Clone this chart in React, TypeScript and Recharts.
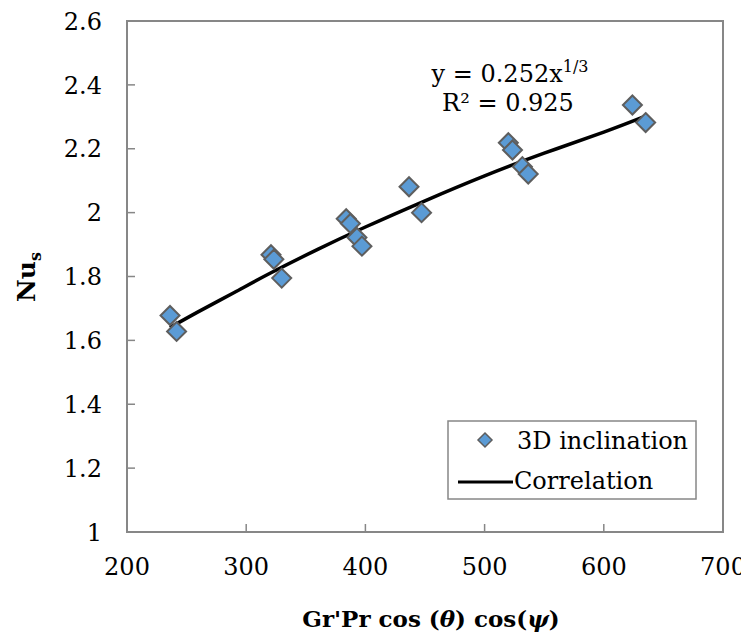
import React from "react";
import {
  ComposedChart,
  Scatter,
  Line,
  XAxis,
  YAxis,
  ReferenceArea,
  Legend,
} from "recharts";

// Measured data: 3D inclination
const measX = [236.1, 241.6, 320.8, 323.2, 329.8, 383.9, 387.4, 392.9, 397.1, 436.6, 447.1, 519.9, 523.4, 531.7, 536.6, 624.0, 635.1];
const measY = [1.678, 1.628, 1.868, 1.854, 1.795, 1.981, 1.966, 1.922, 1.895, 2.081, 2.0, 2.219, 2.196, 2.144, 2.121, 2.337, 2.282];

// Correlation curve
const corrX = [236, 260, 290, 320, 360, 400, 450, 500, 550, 600, 635];
const corrY = [1.64, 1.69, 1.75, 1.81, 1.885, 1.955, 2.037, 2.115, 2.186, 2.252, 2.302];

const xTicks = [200, 300, 400, 500, 600, 700];
const yTicks = [1, 1.2, 1.4, 1.6, 1.8, 2, 2.2, 2.4, 2.6];

const measData = measX.map((x, i) => ({ x, y: measY[i] }));
const corrData = corrX.map((x, i) => ({ x, y: corrY[i] }));

const FONT = "'DejaVu Serif', serif";
const FS = 24;
const GRAY = "#878787";
const BLUE = "#5B9BD5";
const MARK_STROKE = "#5E5E5E";

const txt: React.CSSProperties = { fontFamily: FONT, fontSize: FS };

const Diamond = (props: any) => {
  const { cx, cy } = props;
  if (cx == null || cy == null) return null;
  const r = 9.5;
  return (
    <polygon
      points={`${cx},${cy - r} ${cx + r},${cy} ${cx},${cy + r} ${cx - r},${cy}`}
      fill={BLUE}
      stroke={MARK_STROKE}
      strokeWidth={2}
    />
  );
};

const YTick = (props: any) => {
  const { x, y, payload } = props;
  return (
    <g>
      <line x1={x} y1={y} x2={x + 8} y2={y} stroke={GRAY} strokeWidth={1.5} />
      <text x={x - 25} y={y} dy="0.36em" textAnchor="end" style={txt} fill="#000">
        {String(payload.value)}
      </text>
    </g>
  );
};

const XTick = (props: any) => {
  const { x, y, payload } = props;
  return (
    <g>
      <line x1={x} y1={y} x2={x} y2={y - 8} stroke={GRAY} strokeWidth={1.5} />
      <text x={x} y={y + 43} textAnchor="middle" style={txt} fill="#000">
        {payload.value}
      </text>
    </g>
  );
};

const LegendBox = () => (
  <svg width={250} height={80} style={{ display: "block" }}>
    <rect x={1} y={1} width={248} height={78} fill="#fff" stroke={GRAY} strokeWidth={1.5} />
    <polygon points="38,13 45,20 38,27 31,20" fill={BLUE} stroke={MARK_STROKE} strokeWidth={1.5} />
    <text x={70} y={29} style={txt} fill="#000">3D inclination</text>
    <line x1={11} y1={62} x2={66} y2={62} stroke="#000" strokeWidth={3} />
    <text x={67} y={69} style={txt} fill="#000">Correlation</text>
  </svg>
);

export default function App() {
  return (
    <div style={{ width: 741, height: 636 }}>
      <style>{`.recharts-surface{overflow:visible}`}</style>
      <ComposedChart
        width={741}
        height={636}
        margin={{ top: 13, right: 26, bottom: 0, left: 0 }}
      >
        <XAxis
          type="number"
          dataKey="x"
          domain={[200, 700]}
          ticks={xTicks}
          interval={0}
          allowDataOverflow
          height={112}
          axisLine={false}
          tickLine={false}
          tickSize={0}
          tickMargin={0}
          tick={<XTick />}
        />
        <YAxis
          type="number"
          dataKey="y"
          domain={[1, 2.6]}
          ticks={yTicks}
          interval={0}
          allowDataOverflow
          width={119}
          axisLine={false}
          tickLine={false}
          tickSize={0}
          tickMargin={0}
          tick={<YTick />}
        />
        <ReferenceArea x1={200} x2={700} y1={1} y2={2.6} fill="none" fillOpacity={0} stroke={GRAY} strokeWidth={2} ifOverflow="visible" />
        <Line
          data={corrData}
          dataKey="y"
          type="natural"
          stroke="#000"
          strokeWidth={3.5}
          dot={false}
          activeDot={false}
          isAnimationActive={false}
          legendType="line"
        />
        <Scatter data={measData} dataKey="y" shape={<Diamond />} isAnimationActive={false} />
        <Legend
          layout="horizontal"
          verticalAlign="middle"
          align="center"
          wrapperStyle={{ left: 439, top: 412, width: 250, height: 80 }}
          content={() => <LegendBox />}
        />
        <text x={502} y={74} textAnchor="middle" style={{ ...txt, fontSize: 24 }} fill="#000">
          y = 0.252x
          <tspan style={{ fontSize: 16 }} dy={-10}>1/3</tspan>
        </text>
        <text x={500} y={103} textAnchor="middle" style={{ ...txt, fontSize: 24 }} fill="#000">
          R² = 0.925
        </text>
        <text
          x={27}
          y={269}
          transform="rotate(-90, 27, 269)"
          textAnchor="middle"
          style={{ ...txt, fontWeight: "bold", fontSize: 25 }}
          fill="#000"
        >
          Nu
          <tspan style={{ fontSize: 16 }} dy={6}>s</tspan>
        </text>
        <text x={423} y={619} textAnchor="middle" style={{ ...txt, fontWeight: "bold", fontSize: 23 }} fill="#000">
          Gr'Pr cos (<tspan style={{ fontStyle: "italic" }}>θ</tspan>) cos(<tspan style={{ fontStyle: "italic" }}>ψ</tspan>)
        </text>
      </ComposedChart>
    </div>
  );
}
